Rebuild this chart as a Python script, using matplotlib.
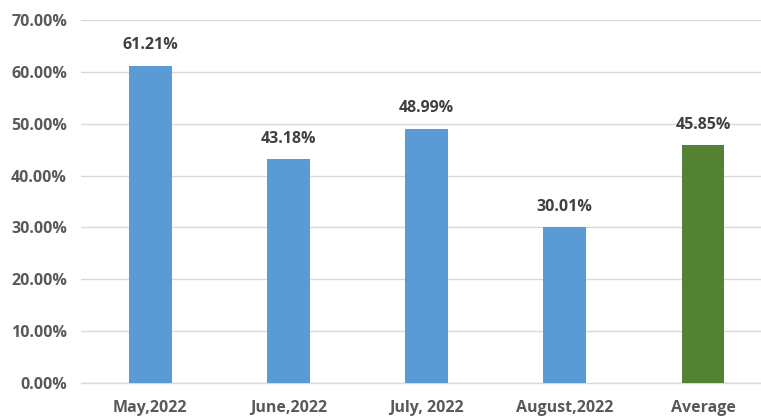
import numpy as np
import matplotlib.pyplot as plt
from matplotlib.ticker import FuncFormatter

# monthly rates and their average
months = ['May,2022', 'June,2022', 'July, 2022', 'August,2022', 'Average']
rates = [61.21, 43.18, 48.99, 30.01, 45.85]
colors = ['#5B9BD5', '#5B9BD5', '#5B9BD5', '#5B9BD5', '#548235']

plt.rcParams['font.family'] = ['Open Sans', 'DejaVu Sans']

fig = plt.figure(figsize=(7.61, 4.17), dpi=100)
ax = fig.add_axes([81 / 761, 1 - 383 / 417, 1 - 81 / 761, (383 - 20) / 417])

x = np.arange(len(months))
bars = ax.bar(x, rates, width=0.31, color=colors, zorder=3)

# value labels above bars
for xi, r in zip(x, rates):
    ax.annotate(f'{r:.2f}%', (xi, r), xytext=(0, 9), textcoords='offset points',
                ha='center', va='bottom', fontsize=11.5, fontweight='bold', color='#404040')

ax.set_ylim(0, 70)
ax.set_xlim(-0.5, 4.42)
ax.set_yticks(np.arange(0, 71, 10))
ax.yaxis.set_major_formatter(FuncFormatter(lambda v, p: f'{v:.2f}%'))
ax.set_xticks(x)
ax.set_xticklabels(months)

for lbl in ax.get_xticklabels() + ax.get_yticklabels():
    lbl.set_fontweight('bold')
    lbl.set_fontsize(11.5)
    lbl.set_color('#595959')

ax.tick_params(axis='both', length=0)
ax.tick_params(axis='x', pad=12)
ax.tick_params(axis='y', pad=10)
ax.grid(axis='y', color='#D9D9D9', linewidth=1, zorder=0)
for s in ['top', 'right', 'left']:
    ax.spines[s].set_visible(False)
ax.spines['bottom'].set_color('#D9D9D9')
ax.spines['bottom'].set_linewidth(1)

plt.savefig('out.png', dpi=100)
